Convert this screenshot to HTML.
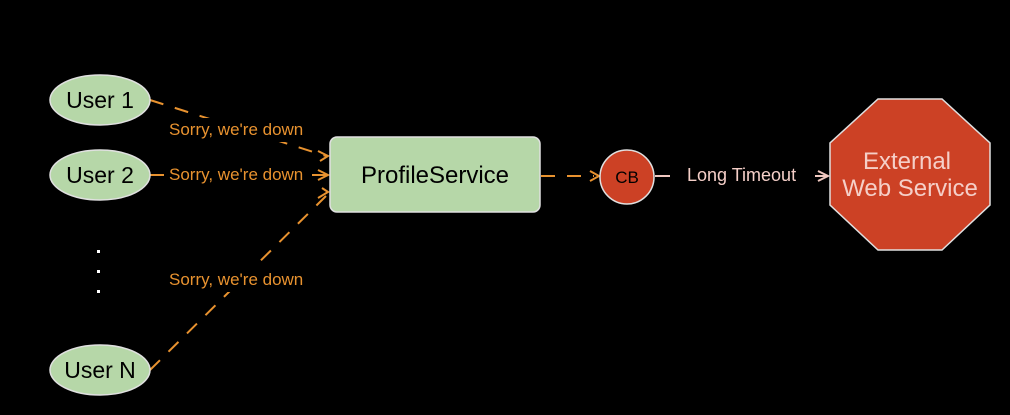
<!DOCTYPE html>
<html><head><style>html,body{margin:0;padding:0;background:#000;}svg{display:block}</style></head>
<body>
<svg width="1010" height="415" viewBox="0 0 1010 415" xmlns="http://www.w3.org/2000/svg" font-family="Liberation Sans, Arial, sans-serif">
<rect width="1010" height="415" fill="#000"/>
<g stroke="#e8922f" stroke-width="2" fill="none" stroke-dasharray="14,12">
<path d="M150 100 L326 156"/>
<path d="M150 370 L326 196"/>
<path d="M541 176 L594 176"/>
</g>
<g stroke="#e8922f" stroke-width="2" fill="none">
<path d="M150 175 L167 175"/>
<path d="M312 175 L326 175"/>
<path d="M318 151 L328 156 L320 161"/>
<path d="M318 170 L328 175 L318 180"/>
<path d="M318 198 L328 192 L322 188"/>
<path d="M590 171 L599 176 L590 181"/>
</g>
<g stroke="#f0c8c0" stroke-width="2" fill="none">
<path d="M655 176 L670 176"/>
<path d="M815 176 L827 176"/>
<path d="M818 171 L828 176 L818 181"/>
</g>
<g fill="#000">
<rect x="164" y="118" width="152" height="24"/>
<rect x="164" y="163" width="148" height="24"/>
<rect x="164" y="268" width="152" height="24"/>
</g>
<g font-size="17" fill="#e8922f">
<text x="169" y="135">Sorry, we're down</text>
<text x="169" y="180">Sorry, we're down</text>
<text x="169" y="285">Sorry, we're down</text>
</g>
<text x="687" y="181" font-size="18" fill="#f5cfc8">Long Timeout</text>
<g fill="#b6d7a8" stroke="#e0e0e0" stroke-width="1.5">
<ellipse cx="100" cy="100" rx="50" ry="25"/>
<ellipse cx="100" cy="175" rx="50" ry="25"/>
<ellipse cx="100" cy="370" rx="50" ry="25"/>
<rect x="330" y="137" width="210" height="75" rx="7"/>
</g>
<g font-size="23" fill="#000" text-anchor="middle">
<text x="100" y="108">User 1</text>
<text x="100" y="183">User 2</text>
<text x="100" y="378">User N</text>
<text x="435" y="183" font-size="24">ProfileService</text>
</g>
<g fill="#fff"><rect x="97" y="250" width="3" height="3"/><rect x="97" y="270" width="3" height="3"/><rect x="97" y="290" width="3" height="3"/></g>
<circle cx="627" cy="177" r="27" fill="#cc4125" stroke="#e0e0e0" stroke-width="1.5"/>
<text x="627" y="183" font-size="17" text-anchor="middle" fill="#000">CB</text>
<polygon points="878,99 942,99 990,143 990,205 942,250 878,250 830,205 830,143" fill="#cc4125" stroke="#e0e0e0" stroke-width="1.5"/>
<g font-size="24" fill="#f5cfc8" text-anchor="middle">
<text x="907" y="169">External</text>
<text x="910" y="196">Web Service</text>
</g>
</svg>
</body></html>
